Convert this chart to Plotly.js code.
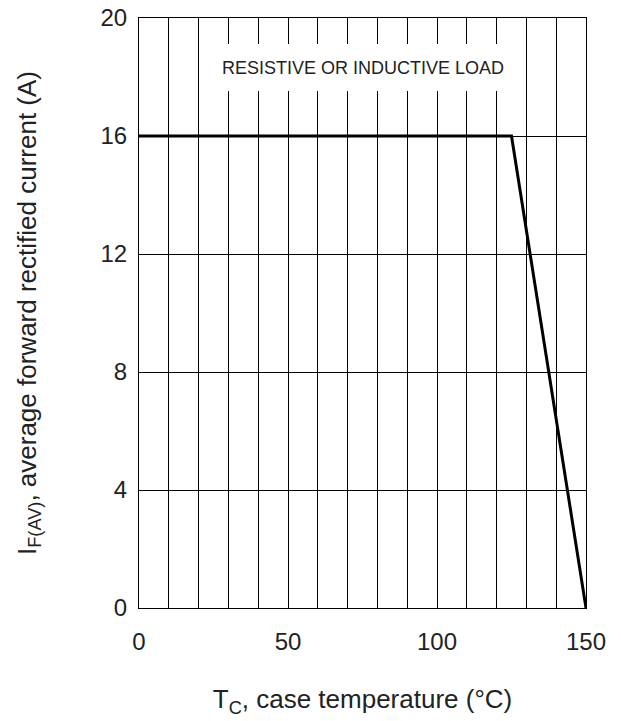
<!DOCTYPE html>
<html>
<head>
<meta charset="utf-8">
<script src="https://cdn.plot.ly/plotly-3.0.1.min.js"></script>
<style>html,body{margin:0;padding:0;background:#fff;}#chart{width:621px;height:721px;}</style>
</head>
<body>
<div id="chart"></div>
<script>
// Data
const caseTemperature = [0, 125, 150];
const avgForwardCurrent = [16, 16, 0];
const xTickValues = [0, 50, 100, 150];
const xTickLabels = ['0', '50', '100', '150'];
const yTickValues = [0, 4, 8, 12, 16, 20];
const yTickLabels = ['0', '4', '8', '12', '16', '20'];
const loadLabel = 'RESISTIVE OR INDUCTIVE LOAD';
const xTitle = 'T<sub>C</sub>, case temperature (°C)';
const yTitle = 'I<sub>F(AV)</sub>, average forward rectified current (A)';

const FONT = 'Liberation Sans, Arial, sans-serif';

const trace = {
  x: caseTemperature,
  y: avgForwardCurrent,
  type: 'scatter',
  mode: 'lines',
  line: {color: '#000', width: 3},
  hoverinfo: 'skip',
  showlegend: false
};

const layout = {
  width: 621,
  height: 721,
  margin: {l: 139, r: 35, t: 18, b: 113},
  paper_bgcolor: '#fff',
  plot_bgcolor: '#fff',
  font: {family: FONT, size: 24, color: '#222'},
  showlegend: false,
  xaxis: {
    range: [0, 150],
    tickmode: 'array',
    tickvals: xTickValues,
    ticktext: xTickLabels,
    ticks: '',
    ticklabelstandoff: 12,
    showgrid: true,
    gridcolor: '#000',
    gridwidth: 1,
    minor: {dtick: 10, showgrid: true, gridcolor: '#000', gridwidth: 1},
    showline: true,
    linecolor: '#000',
    linewidth: 1,
    mirror: true,
    zeroline: false,
    tickfont: {size: 24, color: '#222'},
    title: {text: xTitle, font: {size: 26, color: '#222'}, standoff: 36}
  },
  yaxis: {
    range: [0, 20],
    tickmode: 'array',
    tickvals: yTickValues,
    ticktext: yTickLabels,
    ticks: '',
    ticklabelstandoff: 6,
    showgrid: true,
    gridcolor: '#000',
    gridwidth: 1,
    showline: true,
    linecolor: '#000',
    linewidth: 1,
    mirror: true,
    zeroline: false,
    tickfont: {size: 24, color: '#222'},
    title: {text: yTitle, font: {size: 26, color: '#222'}, standoff: 56}
  },
  annotations: [{
    x: 75, y: 18.32, xref: 'x', yref: 'y',
    text: loadLabel,
    showarrow: false,
    font: {family: FONT, size: 18, color: '#222'},
    bgcolor: '#fff',
    width: 322,
    height: 47,
    borderpad: 0,
    borderwidth: 0,
    xanchor: 'center',
    yanchor: 'middle'
  }]
};

Plotly.newPlot('chart', [trace], layout, {staticPlot: true, displayModeBar: false});
</script>
</body>
</html>
